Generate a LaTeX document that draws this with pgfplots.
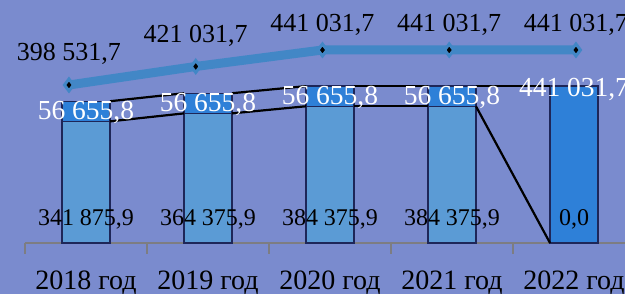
\documentclass[border=0pt]{standalone}
\usepackage{pgfplots}
\pgfplotsset{compat=1.18}
\usepackage{fontspec}
\setmainfont{Liberation Serif}
\definecolor{bg}{RGB}{122,139,206}
\definecolor{barA}{RGB}{91,155,213}
\definecolor{barB}{RGB}{46,128,216}
\definecolor{edge}{RGB}{30,38,88}
\definecolor{lineC}{RGB}{66,135,198}
\definecolor{axisC}{RGB}{125,125,130}
\pgfplotsset{
  geom/.style={at={(25pt,51pt)}, anchor=south west, scale only axis,
    width=609pt, height=233pt, clip=false},
}
\begin{document}
\begin{tikzpicture}
\useasboundingbox (0,0) rectangle (625pt,294pt);
\clip (0,0) rectangle (625pt,294pt);
\fill[bg] (0,0) rectangle (625pt,294pt);
% bars
\begin{axis}[geom,
  xmin=-0.5, xmax=4.4918, ymin=0, ymax=655000,
  ybar stacked, bar width=0.393,
  axis x line*=bottom, axis y line=none,
  x axis line style={draw=axisC, line width=2.5pt},
  axis line style={draw=axisC, line width=2.5pt},
  xtick={0,1,2,3,4},
  xticklabels={2018 год,2019 год,2020 год,2021 год,2022 год},
  major tick length=0pt,
  minor xtick={-0.5,0.5,1.5,2.5,3.5,4.5},
  minor tick length=11pt,
  tick align=outside,
  every tick/.append style={draw=axisC, line width=2.5pt},
  every minor tick/.append style={draw=axisC, line width=2.5pt},
  xticklabel style={font=\fontsize{28}{32}\selectfont, anchor=base, yshift=-47pt},
]
\addplot[fill=barA, draw=edge, line width=1.4pt] coordinates {(0,341875.9) (1,364375.9) (2,384375.9) (3,384375.9) (4,0)};
\addplot[fill=barB, draw=edge, line width=1.4pt] coordinates {(0,56655.8) (1,56655.8) (2,56655.8) (3,56655.8) (4,441031.7)};
\end{axis}
% series lines and bar labels
\begin{axis}[geom, xmin=-0.5, xmax=4.4918, ymin=0, ymax=655000, hide axis]
\addplot[black, line width=2.2pt] coordinates {(0.1965,341875.9) (0.8035,364375.9)};
\addplot[black, line width=2.2pt] coordinates {(1.1965,364375.9) (1.8035,384375.9)};
\addplot[black, line width=2.2pt] coordinates {(2.1965,384375.9) (2.8035,384375.9)};
\addplot[black, line width=2.2pt] coordinates {(3.1965,384375.9) (3.8035,0)};
\addplot[black, line width=2.2pt] coordinates {(0.1965,398531.7) (0.8035,421031.7)};
\addplot[black, line width=2.2pt] coordinates {(1.1965,421031.7) (1.8035,441031.7)};
\addplot[black, line width=2.2pt] coordinates {(2.1965,441031.7) (2.8035,441031.7)};
\addplot[black, line width=2.2pt] coordinates {(3.1965,441031.7) (3.8035,441031.7)};
\addplot[draw=none, mark=none, nodes near coords, point meta=explicit symbolic,
  every node near coord/.append style={anchor=center, yshift=24pt, font=\fontsize{24}{28}\selectfont, text=black}]
  coordinates {(0,0)[341 875,9] (1,0)[364 375,9] (2,0)[384 375,9] (3,0)[384 375,9] (4,0)[0,0]};
\addplot[draw=none, mark=none, nodes near coords, point meta=explicit symbolic,
  every node near coord/.append style={anchor=center, yshift=-11pt, font=\fontsize{27.5}{31}\selectfont, text=white}]
  coordinates {(0,398531.7)[56 655,8] (1,421031.7)[56 655,8] (2,441031.7)[56 655,8] (3,441031.7)[56 655,8]};
\addplot[draw=none, mark=none, nodes near coords, point meta=explicit symbolic,
  every node near coord/.append style={anchor=center, yshift=-3pt, font=\fontsize{27.5}{31}\selectfont, text=white}]
  coordinates {(4,441031.7)[441 031,7]};
\end{axis}
% total line
\begin{axis}[geom, xmin=-0.347, xmax=4.458, ymin=206675, ymax=489603, hide axis]
\addplot[lineC, line width=9pt, mark=diamond*, mark size=6pt,
  mark options={fill=black, draw=lineC, line width=3pt, solid}]
  coordinates {(0,398531.7) (1,421031.7) (2,441031.7) (3,441031.7) (4,441031.7)};
\addplot[draw=none, mark=none, nodes near coords, point meta=explicit symbolic,
  every node near coord/.append style={anchor=base, yshift=24pt, font=\fontsize{26}{30}\selectfont, text=black}]
  coordinates {(0,398531.7)[398 531,7] (1,421031.7)[421 031,7]};
\addplot[draw=none, mark=none, nodes near coords, point meta=explicit symbolic,
  every node near coord/.append style={anchor=base, yshift=18pt, font=\fontsize{26}{30}\selectfont, text=black}]
  coordinates {(2,441031.7)[441 031,7] (3,441031.7)[441 031,7] (4,441031.7)[441 031,7]};
\end{axis}
\end{tikzpicture}
\end{document}
